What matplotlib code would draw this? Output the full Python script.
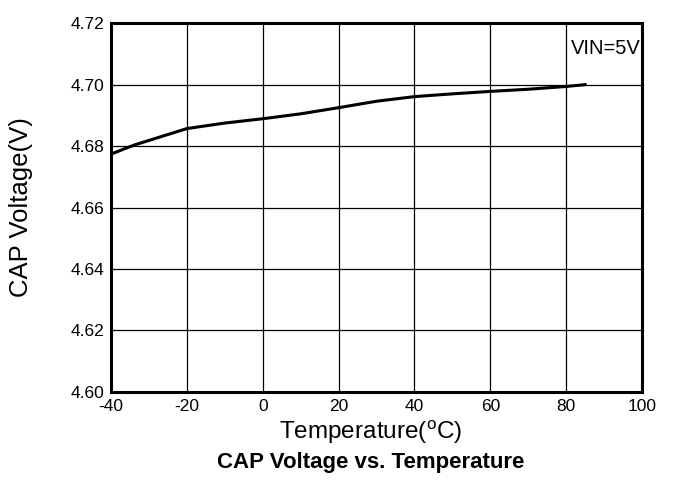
import matplotlib
matplotlib.use("Agg")
import matplotlib.pyplot as plt

plt.rcParams['font.family'] = ['Liberation Sans', 'DejaVu Sans']
plt.rcParams['mathtext.fontset'] = 'custom'
plt.rcParams['mathtext.rm'] = 'Liberation Sans'
plt.rcParams['axes.unicode_minus'] = False

# CAP voltage measured over temperature, VIN = 5V
temp_c = [-40, -34, -20, -10, 0, 10, 20, 30, 40, 50, 60, 70, 80, 85]
cap_v = [4.6774, 4.6803, 4.6857, 4.6875, 4.6889, 4.6905, 4.6925,
         4.6946, 4.6961, 4.6970, 4.6978, 4.6985, 4.6994, 4.7000]

x_ticks = [-40, -20, 0, 20, 40, 60, 80, 100]
y_ticks = [4.60, 4.62, 4.64, 4.66, 4.68, 4.70, 4.72]

fig = plt.figure(figsize=(6.73, 4.93), dpi=100)
ax = fig.add_axes([0.165, 0.205, 0.789, 0.748])

ax.plot(temp_c, cap_v, color='black', lw=2.2, zorder=3)

ax.set_xlim(-40, 100)
ax.set_ylim(4.60, 4.72)
ax.set_xticks(x_ticks)
ax.set_yticks(y_ticks)
ax.set_yticklabels([f'{v:.2f}' for v in y_ticks])
ax.tick_params(length=0, labelsize=12.5, pad=5)
ax.grid(True, color='black', lw=0.9)

for s in ax.spines.values():
    s.set_linewidth(2.2)

ax.text(0.932, 0.932, 'VIN=5V', transform=ax.transAxes, fontsize=14.5,
        ha='center', va='center')

ax.set_ylabel('CAP Voltage(V)', fontsize=18.5, labelpad=27)
fig.text(0.551, 0.124, r'Temperature($^\mathrm{o}$C)', fontsize=17.5,
         ha='center', va='center')
fig.text(0.551, 0.061, 'CAP Voltage vs. Temperature', fontsize=16,
         fontweight='bold', ha='center', va='center')

fig.savefig('out.png', dpi=100)
